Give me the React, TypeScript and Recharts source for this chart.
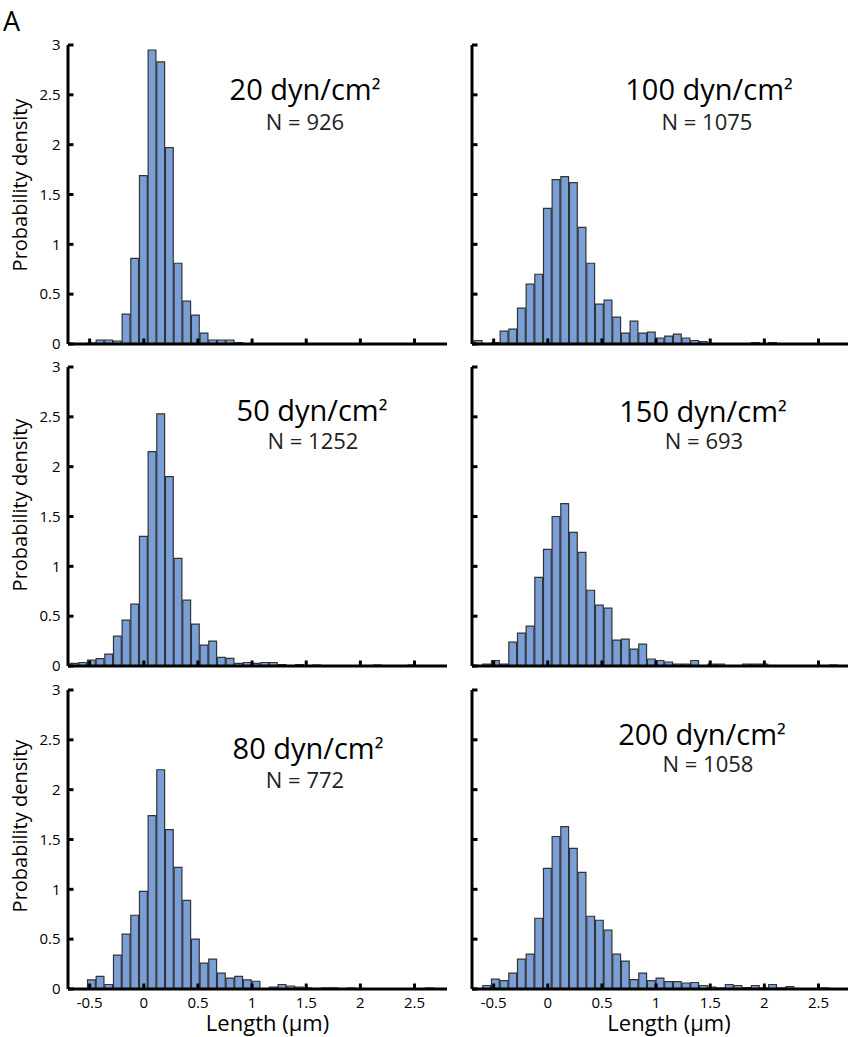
import { BarChart, Bar, XAxis, YAxis } from "recharts"

// histogram bin centres (bin width 0.08 µm)
const BIN_CENTERS = [
  -0.64, -0.56, -0.48, -0.4, -0.32, -0.24, -0.16, -0.08, 0, 0.08, 0.16,
  0.24, 0.32, 0.4, 0.48, 0.56, 0.64, 0.72, 0.8, 0.88, 0.96, 1.04, 1.12,
  1.2, 1.28, 1.36, 1.44, 1.52, 1.6, 1.68, 1.76, 1.84, 1.92, 2.0, 2.08,
  2.16, 2.24, 2.32, 2.4, 2.48, 2.56, 2.64, 2.72
]

const X_TICKS = [-0.5, 0, 0.5, 1, 1.5, 2, 2.5]
const Y_TICKS = [0, 0.5, 1, 1.5, 2, 2.5, 3]

// probability density per bin, one array per shear stress
const DENSITY_20 = [
  0, 0, 0.01, 0.04, 0.04, 0.03, 0.3, 0.86, 1.69, 2.95, 2.83,
  1.97, 0.81, 0.43, 0.29, 0.11, 0.04, 0.04, 0.04, 0.015, 0, 0, 0,
  0, 0, 0, 0, 0, 0, 0, 0, 0, 0, 0, 0,
  0, 0, 0, 0, 0, 0, 0, 0
]
const DENSITY_100 = [
  0.035, 0, 0.015, 0.13, 0.15, 0.36, 0.6, 0.7, 1.36, 1.65, 1.68,
  1.62, 1.17, 0.81, 0.4, 0.44, 0.27, 0.11, 0.23, 0.11, 0.12, 0.06, 0.08,
  0.1, 0.06, 0.035, 0.025, 0, 0, 0, 0, 0, 0.015, 0, 0.015,
  0, 0, 0, 0, 0, 0, 0, 0
]
const DENSITY_50 = [
  0.027, 0.035, 0.06, 0.073, 0.12, 0.3, 0.46, 0.62, 1.3, 2.15, 2.53,
  1.9, 1.08, 0.66, 0.42, 0.21, 0.25, 0.087, 0.077, 0.027, 0.035, 0.027, 0.035,
  0.035, 0.015, 0, 0.015, 0, 0.01, 0, 0, 0, 0, 0, 0,
  0.01, 0, 0, 0, 0.01, 0, 0, 0
]
const DENSITY_150 = [
  0, 0.02, 0.055, 0.02, 0.24, 0.33, 0.4, 0.89, 1.17, 1.5, 1.63,
  1.34, 1.14, 0.76, 0.61, 0.58, 0.26, 0.27, 0.17, 0.22, 0.07, 0.055, 0.04,
  0.02, 0.02, 0.055, 0, 0.02, 0.02, 0, 0, 0.02, 0.02, 0.02, 0.005,
  0, 0, 0, 0, 0, 0, 0.01, 0
]
const DENSITY_80 = [
  0, 0, 0.092, 0.126, 0.045, 0.34, 0.55, 0.74, 0.98, 1.74, 2.2,
  1.6, 1.22, 0.89, 0.5, 0.26, 0.3, 0.16, 0.11, 0.126, 0.092, 0.078, 0,
  0.02, 0.045, 0.03, 0.02, 0.01, 0, 0.01, 0.01, 0, 0.01, 0, 0,
  0, 0, 0, 0, 0, 0, 0.01, 0
]
const DENSITY_200 = [
  0, 0.035, 0.1, 0.085, 0.16, 0.3, 0.35, 0.71, 1.21, 1.53, 1.63,
  1.41, 1.17, 0.73, 0.69, 0.59, 0.35, 0.28, 0.095, 0.16, 0.085, 0.11, 0.075,
  0.075, 0.06, 0.065, 0.035, 0.02, 0.01, 0.045, 0.035, 0.015, 0.035, 0.01, 0.045,
  0.01, 0.025, 0, 0, 0, 0.01, 0, 0
]

const FONT = "'Open Sans', sans-serif"
const PLOT_W = 379
const PLOT_H = 299
const BAR_W = 0.08 * (PLOT_W / 3.5)
const FILL = "#7a9ed6"
const EDGE = "#333333"

type Panel = {
  stress: string
  count: string
  values: number[]
  left: number
  top: number
  xLabels: boolean
  yLabels: boolean
  titleX: number
  titleY: number
  countX: number
  countY: number
}

const PANELS: Panel[] = [
  { stress: "20", count: "N = 926", values: DENSITY_20, left: 68, top: 44.5, xLabels: false, yLabels: true, titleX: 305, titleY: 99.5, countX: 305, countY: 130 },
  { stress: "100", count: "N = 1075", values: DENSITY_100, left: 471.7, top: 44.5, xLabels: false, yLabels: false, titleX: 709, titleY: 99.5, countX: 707, countY: 130 },
  { stress: "50", count: "N = 1252", values: DENSITY_50, left: 68, top: 367, xLabels: false, yLabels: true, titleX: 312, titleY: 421, countX: 313, countY: 449 },
  { stress: "150", count: "N = 693", values: DENSITY_150, left: 471.7, top: 367, xLabels: false, yLabels: false, titleX: 703, titleY: 422, countX: 704, countY: 449 },
  { stress: "80", count: "N = 772", values: DENSITY_80, left: 68, top: 689.5, xLabels: true, yLabels: true, titleX: 308, titleY: 759, countX: 305, countY: 788 },
  { stress: "200", count: "N = 1058", values: DENSITY_200, left: 471.7, top: 689.5, xLabels: true, yLabels: false, titleX: 702, titleY: 745, countX: 708, countY: 772 }
]

function XTick(props: any) {
  const { x, y, payload, showLabel } = props
  return (
    <g>
      <line x1={x} x2={x} y1={y} y2={y - 5.5} stroke="#000" strokeWidth={3} />
      {showLabel && (
        <text x={x} y={y + 18.5} textAnchor="middle" fontSize={15} fontFamily={FONT} fill="#000">
          {payload.value}
        </text>
      )}
    </g>
  )
}

function YTick(props: any) {
  const { x, y, payload, showLabel } = props
  return (
    <g>
      <line x1={x} x2={x + 5.5} y1={y} y2={y} stroke="#000" strokeWidth={3} />
      {showLabel && (
        <text x={x - 7.5} y={y + 5.3} textAnchor="end" fontSize={15} fontFamily={FONT} fill="#000">
          {payload.value}
        </text>
      )}
    </g>
  )
}

function Histogram({ panel }: { panel: Panel }) {
  const data = BIN_CENTERS.map((x, i) => ({ x, density: panel.values[i] }))
  const axisStyle = { stroke: "#000", strokeWidth: 3 }

  return (
    <div style={{ position: "absolute", left: panel.left - 60, top: panel.top - 10 }}>
      <BarChart
        width={60 + PLOT_W + 10}
        height={10 + PLOT_H + 40}
        data={data}
        margin={{ top: 10, right: 10, bottom: 0, left: 0 }}
        barCategoryGap={0}
        barGap={0}
      >
        <Bar
          dataKey="density"
          fill={FILL}
          stroke={EDGE}
          strokeWidth={1.2}
          barSize={BAR_W}
          isAnimationActive={false}
        />
        <XAxis
          type="number"
          dataKey="x"
          domain={[-0.7, 2.8]}
          ticks={X_TICKS}
          interval={0}
          allowDataOverflow
          height={40}
          axisLine={axisStyle}
          tickLine={false}
          tickSize={0}
          tickMargin={0}
          tick={(p: any) => <XTick {...p} showLabel={panel.xLabels} />}
        />
        <YAxis
          type="number"
          domain={[0, 3]}
          ticks={Y_TICKS}
          interval={0}
          allowDataOverflow
          width={60}
          axisLine={axisStyle}
          tickLine={false}
          tickSize={0}
          tickMargin={0}
          tick={(p: any) => <YTick {...p} showLabel={panel.yLabels} />}
        />
      </BarChart>
    </div>
  )
}

export default function App() {
  return (
    <div
      style={{
        position: "absolute",
        left: 0,
        top: 0,
        width: 848,
        height: 1037,
        overflow: "hidden",
        background: "#fff",
        fontFamily: FONT
      }}
    >
      {PANELS.map((p) => (
        <Histogram key={p.stress} panel={p} />
      ))}

      <svg
        width={848}
        height={1037}
        style={{ position: "absolute", left: 0, top: 0, pointerEvents: "none" }}
        fontFamily={FONT}
      >
        <text x={3} y={31} fontSize={27} fill="#000">A</text>

        {PANELS.map((p) => (
          <g key={p.stress}>
            <text x={p.titleX} y={p.titleY} fontSize={29} textAnchor="middle" fill="#000">
              {p.stress} dyn/cm<tspan fontSize={25}>²</tspan>
            </text>
            <text x={p.countX} y={p.countY} fontSize={22} textAnchor="middle" fill="#222">
              {p.count}
            </text>
          </g>
        ))}

        {[185, 505, 826].map((cy) => (
          <text
            key={cy}
            transform={`translate(27, ${cy}) rotate(-90)`}
            fontSize={20}
            textAnchor="middle"
            fill="#000"
          >
            Probability density
          </text>
        ))}

        <text x={267.5} y={1031} fontSize={22} textAnchor="middle" fill="#000">Length (µm)</text>
        <text x={669} y={1031} fontSize={22} textAnchor="middle" fill="#000">Length (µm)</text>
      </svg>
    </div>
  )
}
